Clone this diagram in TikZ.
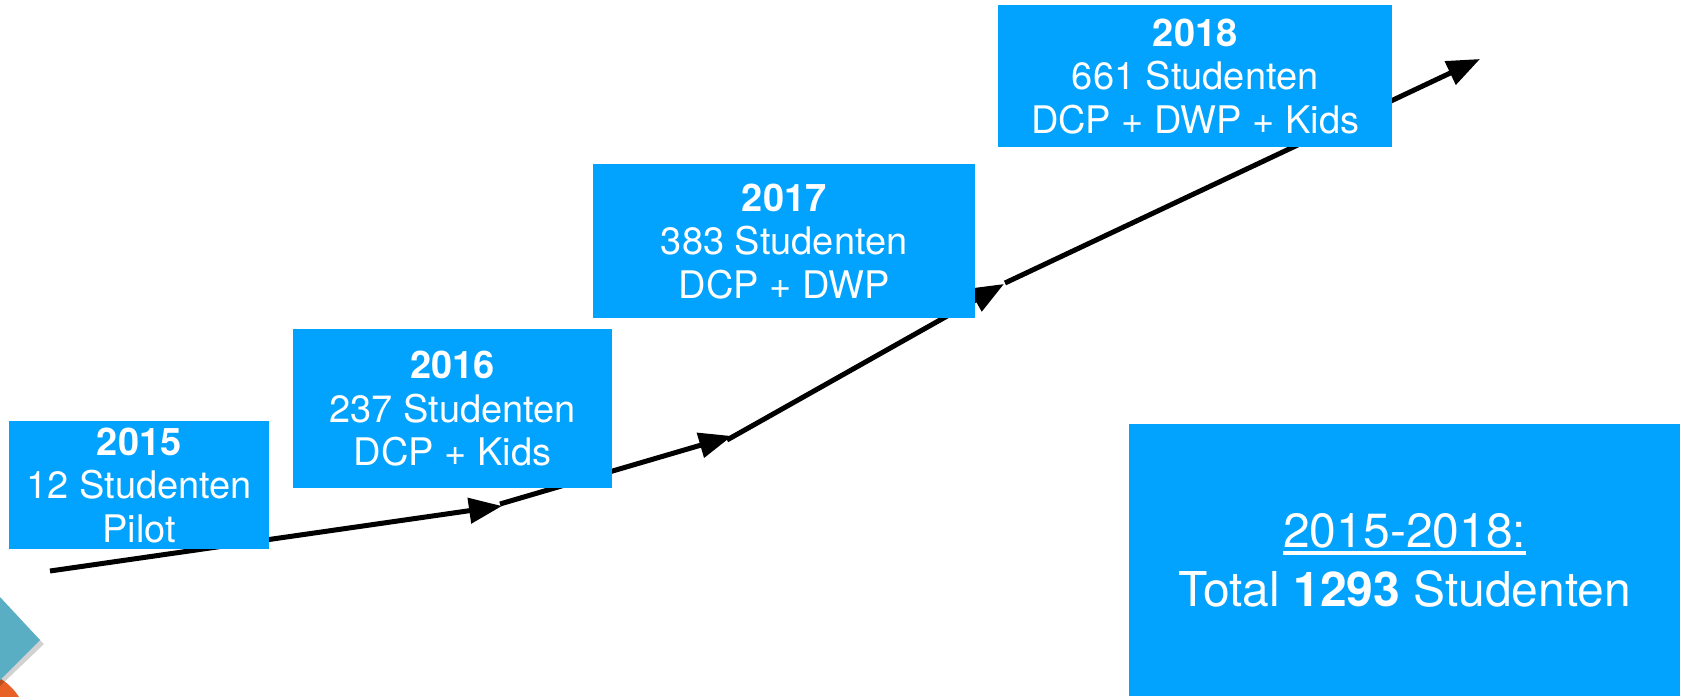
\documentclass[tikz,border=0pt]{standalone}
\usepackage{fontspec}
\setmainfont{TeX Gyre Heros}
\usetikzlibrary{arrows.meta}
\definecolor{boxblue}{RGB}{2,162,255}
\definecolor{tealdeco}{RGB}{90,174,196}
\definecolor{orangedeco}{RGB}{232,98,40}
\newcommand\myul[1]{\setbox0\hbox{#1}\rlap{\rule[-8pt]{\wd0}{4pt}}\box0}
\begin{document}
\begin{tikzpicture}[x=1pt,y=-1pt,
  yearbox/.style={fill=boxblue,text=white,inner sep=0pt,anchor=north west,align=center,
    font=\fontsize{38}{43.5}\selectfont},
  trend/.style={line width=5pt,-{Triangle[length=33pt,width=25pt]}},
]
\useasboundingbox (0,0) rectangle (1683,696);
% corner decoration
\fill[orangedeco] (-30,728) circle[radius=58pt];
\fill[black,opacity=0.18] (0,600) -- (44,644) -- (0,686) -- cycle;
\fill[tealdeco] (0,597) -- (40,640) -- (0,680) -- (-40,640) -- cycle;
% trend line
\coordinate (p0) at (50,571);
\coordinate (p1) at (502,506);
\coordinate (q1) at (500,504);
\coordinate (p2) at (732,436);
\coordinate (q2) at (727,440);
\coordinate (p3) at (1004,284);
\coordinate (q3) at (1005,283);
\coordinate (p4) at (1480,59);
\draw[trend] (p0) -- (p1);
\draw[trend] (q1) -- (p2);
\draw[trend] (q2) -- (p3);
\draw[trend] (q3) -- (p4);
% boxes
\node[yearbox,minimum width=260pt,minimum height=128pt] (b15) at (9,421)
  {\textbf{2015}\\12 Studenten\\Pilot};
\node[yearbox,minimum width=319pt,minimum height=159pt] (b16) at (293,329)
  {\textbf{2016}\\237 Studenten\\DCP + Kids};
\node[yearbox,minimum width=382pt,minimum height=154pt] (b17) at (593,164)
  {\textbf{2017}\\383 Studenten\\DCP + DWP};
\node[yearbox,minimum width=394pt,minimum height=142pt] (b18) at (998,5)
  {\textbf{2018}\\661 Studenten\\DCP + DWP + Kids};
\node[yearbox,minimum width=551pt,minimum height=272pt,font=\fontsize{48}{59}\selectfont] (total) at (1129,424)
  {\myul{2015-2018:}\\Total \textbf{1293} Studenten};
\end{tikzpicture}
\end{document}
